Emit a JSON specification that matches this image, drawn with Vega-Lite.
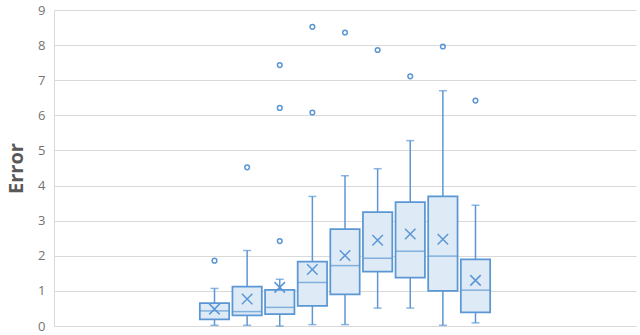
{
  "$schema": "https://vega.github.io/schema/vega-lite/v6.json",
  "width": 582,
  "height": 316,
  "autosize": {"type": "none"},
  "padding": {"left": 54, "top": 10, "right": 4, "bottom": 9},
  "background": "white",
  "config": {
    "view": {"stroke": null},
    "axisY": {
      "titleFont": "Open Sans",
      "titleFontSize": 20,
      "titleFontWeight": "bold",
      "titleColor": "#595959",
      "titlePadding": 11,
      "labelFont": "Open Sans",
      "labelFontSize": 13,
      "labelColor": "#737373",
      "labelPadding": 9,
      "ticks": false,
      "domainColor": "#d9d9d9",
      "gridColor": "#d9d9d9",
      "grid": true
    }
  },
  "datasets": {
    "boxes": [
      {"series": "S1", "min": 0.02, "q1": 0.19, "median": 0.43, "q3": 0.65, "max": 1.07, "mean": 0.48},
      {"series": "S2", "min": 0.02, "q1": 0.3, "median": 0.41, "q3": 1.12, "max": 2.15, "mean": 0.77},
      {"series": "S3", "min": 0.0, "q1": 0.34, "median": 0.53, "q3": 1.03, "max": 1.33, "mean": 1.1},
      {"series": "S4", "min": 0.04, "q1": 0.57, "median": 1.24, "q3": 1.83, "max": 3.69, "mean": 1.61},
      {"series": "S5", "min": 0.04, "q1": 0.9, "median": 1.72, "q3": 2.76, "max": 4.28, "mean": 2.01},
      {"series": "S6", "min": 0.51, "q1": 1.55, "median": 1.93, "q3": 3.24, "max": 4.48, "mean": 2.44},
      {"series": "S7", "min": 0.51, "q1": 1.38, "median": 2.13, "q3": 3.53, "max": 5.28, "mean": 2.62},
      {"series": "S8", "min": 0.02, "q1": 1.0, "median": 1.99, "q3": 3.69, "max": 6.7, "mean": 2.47},
      {"series": "S9", "min": 0.09, "q1": 0.39, "median": 1.02, "q3": 1.9, "max": 3.44, "mean": 1.3}
    ],
    "outliers": [
      {"series": "S1", "value": 1.86},
      {"series": "S2", "value": 4.52},
      {"series": "S3", "value": 2.42},
      {"series": "S3", "value": 6.21},
      {"series": "S3", "value": 7.43},
      {"series": "S4", "value": 6.08},
      {"series": "S4", "value": 8.52},
      {"series": "S5", "value": 8.36},
      {"series": "S6", "value": 7.86},
      {"series": "S7", "value": 7.11},
      {"series": "S8", "value": 7.96},
      {"series": "S9", "value": 6.42}
    ]
  },
  "encoding": {
    "x": {
      "field": "series",
      "type": "nominal",
      "scale": {"domain": ["L1","L2","L3","L4","S1","S2","S3","S4","S5","S6","S7","S8","S9","R1","R2","R3","R4"], "paddingInner": 0.1, "paddingOuter": 0.47},
      "axis": {"title": null, "labels": false, "ticks": false, "domainColor": "#d9d9d9", "domainWidth": 1}
    }
  },
  "layer": [
    {
      "data": {"name": "boxes"},
      "mark": {"type": "rule", "color": "#5b97d3", "strokeWidth": 1.5},
      "encoding": {
        "y": {
          "field": "min", "type": "quantitative",
          "scale": {"domain": [0, 9], "nice": false},
          "axis": {"values": [0,1,2,3,4,5,6,7,8,9], "title": "Error"}
        },
        "y2": {"field": "max"}
      }
    },
    {
      "data": {"name": "boxes"},
      "mark": {"type": "tick", "orient": "horizontal", "color": "#5b97d3", "size": 8, "thickness": 1.5},
      "encoding": {"y": {"field": "min", "type": "quantitative", "axis": {"values": [0,1,2,3,4,5,6,7,8,9], "title": "Error"}}}
    },
    {
      "data": {"name": "boxes"},
      "mark": {"type": "tick", "orient": "horizontal", "color": "#5b97d3", "size": 8, "thickness": 1.5},
      "encoding": {"y": {"field": "max", "type": "quantitative", "axis": {"values": [0,1,2,3,4,5,6,7,8,9], "title": "Error"}}}
    },
    {
      "data": {"name": "boxes"},
      "mark": {"type": "bar", "fill": "#deebf7", "stroke": "#5b97d3", "strokeWidth": 1.75},
      "encoding": {
        "y": {"field": "q1", "type": "quantitative", "axis": {"values": [0,1,2,3,4,5,6,7,8,9], "title": "Error"}},
        "y2": {"field": "q3"}
      }
    },
    {
      "data": {"name": "boxes"},
      "mark": {"type": "tick", "orient": "horizontal", "color": "#5b97d3", "thickness": 1.5, "size": 29},
      "encoding": {"y": {"field": "median", "type": "quantitative", "axis": {"values": [0,1,2,3,4,5,6,7,8,9], "title": "Error"}}}
    },
    {
      "data": {"name": "boxes"},
      "mark": {"type": "point", "shape": "M-1,-1L1,1M-1,1L1,-1", "filled": false, "stroke": "#5b97d3", "strokeWidth": 1.5, "size": 110, "opacity": 1},
      "encoding": {"y": {"field": "mean", "type": "quantitative", "axis": {"values": [0,1,2,3,4,5,6,7,8,9], "title": "Error"}}}
    },
    {
      "data": {"name": "outliers"},
      "mark": {"type": "point", "shape": "circle", "filled": false, "stroke": "#5b97d3", "strokeWidth": 1.5, "size": 22, "opacity": 1},
      "encoding": {"y": {"field": "value", "type": "quantitative", "axis": {"values": [0,1,2,3,4,5,6,7,8,9], "title": "Error"}}}
    }
  ]
}
